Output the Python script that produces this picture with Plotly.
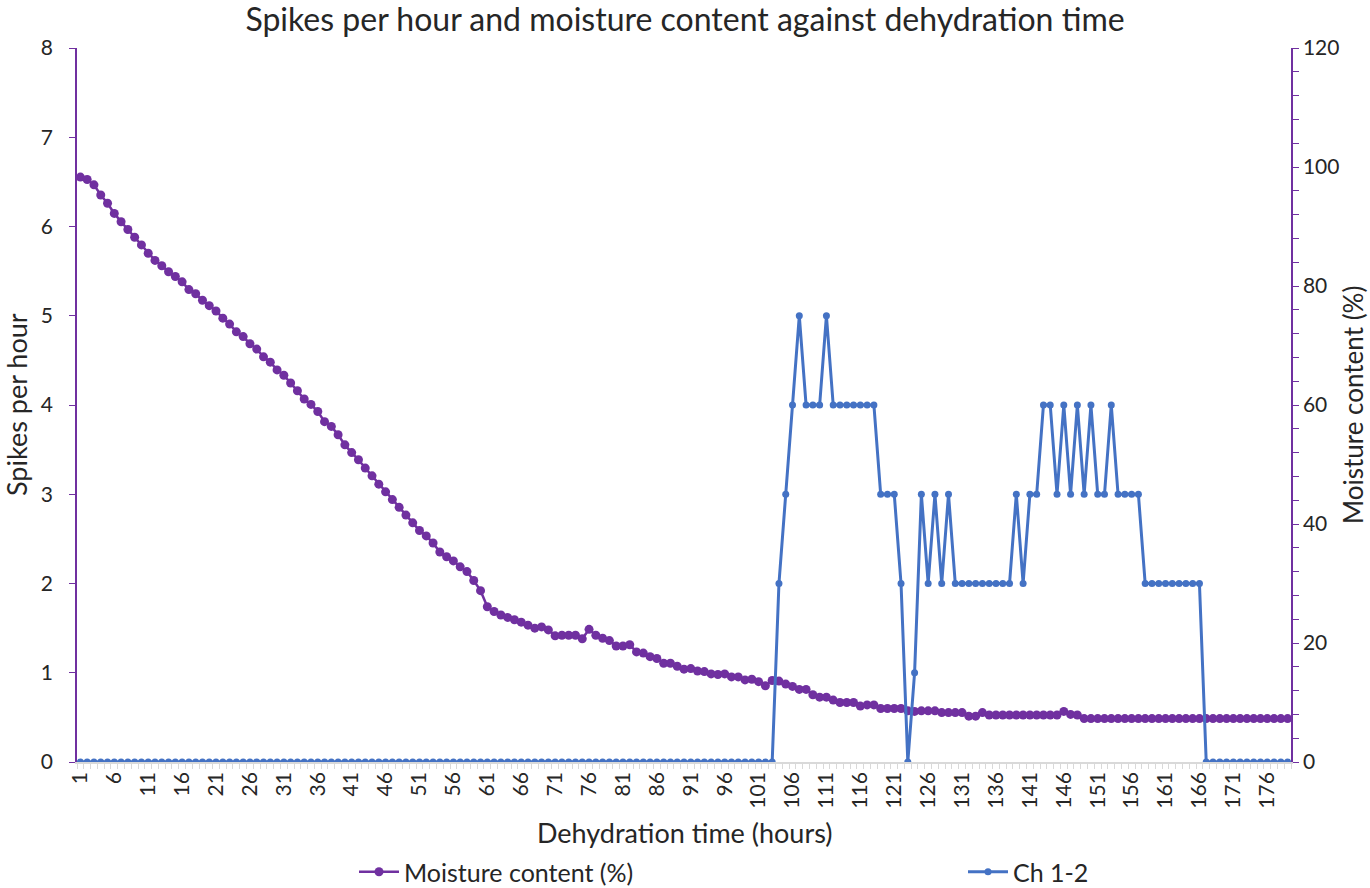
import plotly.graph_objects as go

hours = list(range(1, 180))

moisture = [
    98.3, 97.9, 97.0, 95.3, 93.9, 92.2, 90.8, 89.5, 88.2, 86.9,
    85.5, 84.3, 83.4, 82.4, 81.6, 80.7, 79.4, 78.7, 77.6, 76.7,
    75.8, 74.6, 73.6, 72.3, 71.5, 70.3, 69.4, 68.1, 67.2, 65.9,
    65.0, 63.7, 62.4, 61.0, 60.1, 58.9, 57.2, 56.4, 55.0, 53.3,
    52.0, 50.8, 49.4, 48.1, 46.7, 45.4, 44.1, 42.8, 41.5, 40.2,
    38.9, 38.0, 36.8, 35.3, 34.5, 33.8, 32.8, 32.0, 30.5, 28.8,
    26.1, 25.3, 24.7, 24.3, 23.9, 23.5, 23.0, 22.5, 22.7, 22.2,
    21.2, 21.3, 21.3, 21.3, 20.7, 22.3, 21.3, 20.8, 20.4, 19.5,
    19.5, 19.7, 18.5, 18.3, 17.7, 17.4, 16.6, 16.6, 16.1, 15.6,
    15.7, 15.3, 15.2, 14.8, 14.7, 14.8, 14.3, 14.3, 13.8, 13.9,
    13.5, 12.8, 13.7, 13.6, 13.1, 12.7, 12.2, 12.2, 11.3, 10.9,
    10.9, 10.4, 10.0, 10.0, 10.0, 9.4, 9.6, 9.6, 9.0, 9.0,
    9.0, 9.0, 8.6, 8.5, 8.6, 8.6, 8.6, 8.3, 8.3, 8.3,
    8.3, 7.7, 7.7, 8.3, 7.9, 7.9, 7.9, 7.9, 7.9, 7.9,
    7.9, 7.9, 7.9, 7.9, 7.9, 8.5, 8.0, 7.9, 7.3, 7.3,
    7.3, 7.3, 7.3, 7.3, 7.3, 7.3, 7.3, 7.3, 7.3, 7.3,
    7.3, 7.3, 7.3, 7.3, 7.3, 7.3, 7.3, 7.3, 7.3, 7.3,
    7.3, 7.3, 7.3, 7.3, 7.3, 7.3, 7.3, 7.3, 7.3,
]

spikes = [0] * 103 + [
    2, 3, 4, 5, 4, 4, 4, 5, 4, 4,
    4, 4, 4, 4, 4, 3, 3, 3, 2, 0,
    1, 3, 2, 3, 2, 3, 2, 2, 2, 2,
    2, 2, 2, 2, 2, 3, 2, 3, 3, 4,
    4, 3, 4, 3, 4, 3, 4, 3, 3, 4,
    3, 3, 3, 3, 2, 2, 2, 2, 2, 2,
    2, 2, 2,
] + [0] * 13

tick_hours = list(range(1, 180, 5))
tick_labels = [str(h) for h in tick_hours]

PURPLE = "#7030A0"
BLUE = "#4472C4"
TEXT = "#262626"
FONT = "Lato"

fig = go.Figure()
fig.add_trace(go.Scatter(
    x=hours, y=moisture, name="Moisture content (%)", yaxis="y",
    mode="lines+markers", legend="legend",
    line=dict(color=PURPLE, width=2.5),
    marker=dict(color=PURPLE, size=9),
))
fig.add_trace(go.Scatter(
    x=hours, y=spikes, name="Ch 1-2", yaxis="y2",
    mode="lines+markers", legend="legend2",
    line=dict(color=BLUE, width=3),
    marker=dict(color=BLUE, size=7),
))

fig.update_layout(
    width=1370, height=888,
    margin=dict(l=77, r=79, t=48, b=126, autoexpand=False),
    paper_bgcolor="white", plot_bgcolor="white",
    font=dict(family=FONT, size=21, color=TEXT),
    title=dict(text="Spikes per hour and moisture content against dehydration time",
               x=0.5, xanchor="center", xref="container",
               y=1 - 20 / 888, yanchor="middle", yref="container",
               font=dict(family=FONT, size=32, color=TEXT)),
    showlegend=True,
    legend=dict(xref="container", yref="container", x=354 / 1370, xanchor="left",
                y=1 - 872 / 888, yanchor="middle", font=dict(size=25), itemwidth=40,
                bgcolor="rgba(0,0,0,0)"),
    legend2=dict(xref="container", yref="container", x=963 / 1370, xanchor="left",
                 y=1 - 872 / 888, yanchor="middle", font=dict(size=25), itemwidth=40,
                 bgcolor="rgba(0,0,0,0)"),
    xaxis=dict(
        range=[0.5, 179.5], showgrid=False, zeroline=False, automargin=False,
        showline=True, linecolor="#D9D9D9", linewidth=1.5,
        tickmode="array", tickvals=tick_hours, ticktext=tick_labels,
        tickangle=-90, ticks="", tickfont=dict(size=21),
        minor=dict(tick0=0.5, dtick=1, ticks="outside", ticklen=5,
                   tickcolor="#D9D9D9", tickwidth=1),
    ),
    yaxis=dict(
        side="right", range=[0, 120], dtick=20, showgrid=False, zeroline=False,
        automargin=False,
        showline=True, linecolor=PURPLE, linewidth=1.5,
        ticks="outside", ticklen=6, tickcolor=PURPLE, tickfont=dict(size=21),
        ticklabelstandoff=0,
        minor=dict(dtick=4, ticks="outside", ticklen=6, tickcolor=PURPLE),
    ),
    yaxis2=dict(
        side="left", overlaying="y", range=[0, 8], dtick=1, showgrid=False,
        zeroline=False, automargin=False, showline=True, linecolor=PURPLE, linewidth=1.5,
        ticks="outside", ticklen=6, tickcolor=PURPLE, tickfont=dict(size=21),
        ticklabelstandoff=12,
    ),
    annotations=[
        dict(text="Dehydration time (hours)", xref="paper", yref="paper",
             x=0.5, y=(762 - 832) / 714, xanchor="center", yanchor="middle",
             showarrow=False, font=dict(size=27, color=TEXT)),
        dict(text="Spikes per hour", xref="paper", yref="paper",
             x=(16 - 77) / 1214, y=0.5, xanchor="center", yanchor="middle",
             textangle=-90, showarrow=False, font=dict(size=27, color=TEXT)),
        dict(text="Moisture content (%)", xref="paper", yref="paper",
             x=(1353 - 77) / 1214, y=0.5, xanchor="center", yanchor="middle",
             textangle=-90, showarrow=False, font=dict(size=26, color=TEXT)),
    ],
)

fig.write_html("out.html", config={"displayModeBar": False},
               post_script="document.body.style.margin='0';")
